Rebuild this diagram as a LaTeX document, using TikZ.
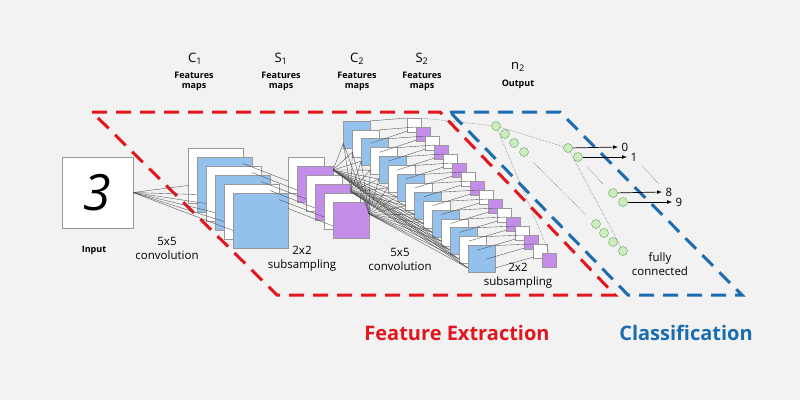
\documentclass[tikz,border=0pt]{standalone}
\usepackage{fontspec}
\setmainfont{Open Sans}
\definecolor{bg}{HTML}{F2F2F2}
\definecolor{fblue}{HTML}{94C1EC}
\definecolor{fpurple}{HTML}{C48DEA}
\definecolor{fgreen}{HTML}{CDEDBE}
\definecolor{gedge}{HTML}{5FA55F}
\definecolor{exred}{HTML}{E1161E}
\definecolor{clblue}{HTML}{1B6CB0}
\tikzset{
  fmap/.style={draw=gray!80, line width=0.6pt, anchor=north west, inner sep=0pt, outer sep=0pt},
  wire/.style={draw=black!70, line width=0.35pt},
  dots/.style={draw=black!60, line width=0.5pt, densely dotted},
  neuron/.style={circle, draw=gedge, fill=fgreen, minimum size=9pt, inner sep=0pt},
  region/.style={line width=3pt, dash pattern=on 15pt off 9pt},
  head/.style={font=\fontsize{13}{14}\selectfont},
  sub/.style={font=\fontsize{9}{10}\selectfont\bfseries, align=center},
  note/.style={font=\fontsize{11.5}{14}\selectfont, align=center},
}
\begin{document}
\begin{tikzpicture}[x=1pt, y=-1pt]
\fill[bg] (0,0) rectangle (800,400);
\useasboundingbox (0,0) rectangle (800,400);

% regions
\draw[region, exred] (92,112) -- (440,112) -- (615,295) -- (277,295) -- cycle;
\draw[region, clblue] (450,112) -- (560,112) -- (742,295) -- (628,295) -- cycle;

% input
\node[fmap, fill=white, minimum size=71pt] (in) at (62,157) {};
\node[font=\fontsize{50}{50}\selectfont\itshape] at (in.center) {3};

% C1 feature maps
\foreach \i in {1,...,6} {
  \pgfmathsetmacro\c{isodd(\i) ? "white" : "fblue"}
  \node[fmap, fill=\c, minimum size=55pt] (c1-\i) at ({179+9*\i},{139+9*\i}) {};
  \draw[wire] (in.east) -- ([yshift=-10pt]c1-\i.west);
}
% S1 feature maps
\foreach \i in {1,...,6} {
  \pgfmathsetmacro\c{isodd(\i) ? "white" : "fpurple"}
  \node[fmap, fill=\c, minimum size=36pt] (s1-\i) at ({279+9*\i},{148+9*\i}) {};
  \draw[wire] ([yshift=12pt]c1-\i.east) -- ([yshift=-6pt]s1-\i.west);
}
% C2 feature maps
\foreach \i in {1,...,15} {
  \pgfmathsetmacro\c{isodd(\i) ? "fblue" : "white"}
  \node[fmap, fill=\c, minimum size=27pt] (c2-\i) at ({334.5+8.9*\i},{112+8.9*\i}) {};
}
\foreach \i in {1,...,15} {
  \foreach \j in {2,4,6} {
    \draw[wire] ([yshift={-2*\j}]s1-\j.north east) -- ([yshift=-9pt]c2-\i.west);
  }
}
% S2 feature maps
\foreach \i in {1,...,16} {
  \pgfmathsetmacro\c{isodd(\i) ? "white" : "fpurple"}
  \node[fmap, fill=\c, minimum size=14pt] (s2-\i) at ({398.5+9*\i},{109+9*\i}) {};
}
\foreach \i in {1,...,15} {
  \draw[wire] (c2-\i.north east) -- (s2-\i.north west);
  \draw[wire] ([yshift=-9pt]c2-\i.east) -- ([yshift=-6pt]s2-\i.west);
}

% fully connected layer
\node[neuron] (h1) at (496,126) {};
\node[neuron] (h2) at (505,134) {};
\node[neuron] (h3) at (514,143) {};
\node[neuron] (h4) at (524,152) {};
\node[neuron] (h5) at (596,224) {};
\node[neuron] (h6) at (604,233) {};
\node[neuron] (h7) at (613,242) {};
\node[neuron] (h8) at (623,251) {};
\node[neuron] (o0) at (568,148) {};
\node[neuron] (o1) at (578,157) {};
\node[neuron] (o8) at (613,193) {};
\node[neuron] (o9) at (623,202) {};
\coordinate (m1) at (533,162);
\coordinate (m2) at (586,215);
\coordinate (m3) at (587,167);
\coordinate (m4) at (603,184);
\coordinate (m5) at (642,166);
\coordinate (m6) at (659,184);
\draw[dots] (s2-1.north east) -- (h1);
\draw[dots] (h1) -- (o0);
\draw[dots] (h1) -- (s2-16.north);
\draw[dots] (o0) -- (h8);
\draw[dots] (m1) -- (m2);
\draw[dots] (m3) -- (m4);
\draw[dots] (m5) -- (m6);

% outputs
\node[note, anchor=west] (l0) at (618,147) {0};
\node[note, anchor=west] (l1) at (627,157) {1};
\node[note, anchor=west] (l8) at (662,192) {8};
\node[note, anchor=west] (l9) at (672,202) {9};
\foreach \n in {0,1,8,9} \draw[-latex, line width=0.7pt] (o\n) -- (l\n.west);

% labels
\node[head] at (195,59) {C\textsubscript{1}};
\node[sub] at (194,81) {Features\\maps};
\node[head] at (281,59) {S\textsubscript{1}};
\node[sub] at (281,81) {Features\\maps};
\node[head] at (357,59) {C\textsubscript{2}};
\node[sub] at (357,81) {Features\\maps};
\node[head] at (422,59) {S\textsubscript{2}};
\node[sub] at (422,81) {Features\\maps};
\node[head] at (518,67) {n\textsubscript{2}};
\node[sub] at (518,84) {Output};
\node[sub] at (94,250) {Input};
\node[note] at (167,248) {5x5\\convolution};
\node[note] at (302,259) {2x2\\subsampling};
\node[note] at (400,259) {5x5\\convolution};
\node[note] at (518,276) {2x2\\subsampling};
\node[note] at (660,264) {fully\\connected};
\node[font=\fontsize{20}{22}\selectfont\bfseries, text=exred] at (457,333) {Feature Extraction};
\node[font=\fontsize{20}{22}\selectfont\bfseries, text=clblue] at (686,333) {Classification};
\end{tikzpicture}
\end{document}
